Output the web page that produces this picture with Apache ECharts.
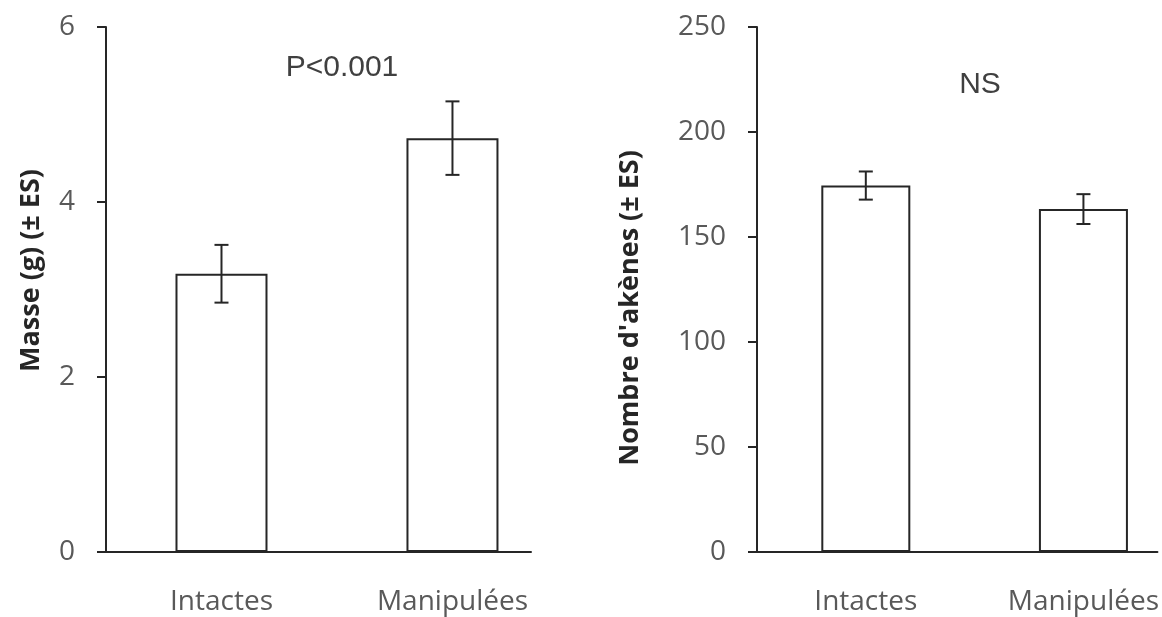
<!DOCTYPE html>
<html>
<head>
<meta charset="utf-8">
<script src="https://cdn.jsdelivr.net/npm/echarts@6/dist/echarts.min.js"></script>
<style>
    html, body { margin: 0; padding: 0; background: #fff; }
    #chart { width: 1162px; height: 617px; }
</style>
</head>
<body>
<div id="chart"></div>
<script>
var categories = ['Intactes', 'Manipulées'];
var masseMean = [3.18, 4.73];
var masseES = [0.33, 0.42];
var akenesMean = [174.5, 163.3];
var akenesES = [6.7, 7.1];
var masseTicks = [0, 2, 4, 6];
var akenesTicks = [0, 50, 100, 150, 200, 250];

var axisColor = '#262626';
var textColor = '#595959';
var font = 'Open Sans';

// positions 1, 2 on a value axis so the bars sit like the original
var toPairs = function (vals) {
    return vals.map(function (v, i) { return [i + 1, v]; });
};
var toErr = function (vals, es) {
    return vals.map(function (v, i) { return [i + 1, v, es[i]]; });
};

var renderErr = function (params, api) {
    var x = api.value(0), m = api.value(1), e = api.value(2);
    var top = api.coord([x, m + e]);
    var bot = api.coord([x, m - e]);
    var cap = 7;
    var style = { stroke: axisColor, lineWidth: 2 };
    return {
        type: 'group',
        children: [
            { type: 'line', shape: { x1: top[0], y1: top[1], x2: bot[0], y2: bot[1] }, style: style },
            { type: 'line', shape: { x1: top[0] - cap, y1: top[1], x2: top[0] + cap, y2: top[1] }, style: style },
            { type: 'line', shape: { x1: bot[0] - cap, y1: bot[1], x2: bot[0] + cap, y2: bot[1] }, style: style }
        ]
    };
};

var xAxisOf = function (gridIndex) {
    return {
        type: 'value',
        gridIndex: gridIndex,
        min: 0.5,
        max: 2.34,
        splitLine: { show: false },
        axisTick: { show: false },
        axisLine: { show: true, lineStyle: { color: axisColor, width: 2 } },
        axisLabel: {
            customValues: [1, 2],
            margin: 36,
            color: textColor,
            fontFamily: font,
            fontSize: 28,
            formatter: function (v) { return categories[Math.round(v) - 1] || ''; }
        }
    };
};

var yAxisOf = function (gridIndex, ticks, name, gap, pad) {
    return {
        type: 'value',
        gridIndex: gridIndex,
        min: ticks[0],
        max: ticks[ticks.length - 1],
        interval: ticks[1] - ticks[0],
        name: name,
        nameLocation: 'middle',
        nameRotate: 90,
        nameGap: gap,
        nameTextStyle: {
            color: '#262626',
            fontFamily: font,
            fontWeight: 'bold',
            fontSize: 27,
            padding: pad
        },
        splitLine: { show: false },
        axisLine: { show: true, lineStyle: { color: axisColor, width: 2 } },
        axisTick: { show: true, inside: false, length: 9, lineStyle: { color: axisColor, width: 2 } },
        axisLabel: {
            margin: 31,
            color: textColor,
            fontFamily: font,
            fontSize: 28
        }
    };
};

var chart = echarts.init(document.getElementById('chart'));
var option = {
    animation: false,
    backgroundColor: '#fff',
    grid: [
        { left: 106, top: 27, width: 425, height: 525 },
        { left: 757, top: 27, width: 405, height: 525 }
    ],
    xAxis: [xAxisOf(0), xAxisOf(1)],
    yAxis: [
        yAxisOf(0, masseTicks, 'Masse (g) (± ES)', 61, [0, 0, 0, 38]),
        yAxisOf(1, akenesTicks, "Nombre d'akènes (± ES)", 113, [0, 37, 0, 0])
    ],
    graphic: [
        { type: 'text', x: 342, y: 68, style: { text: 'P<0.001', fill: '#404040', font: '30px "Liberation Sans"', textAlign: 'center', textVerticalAlign: 'middle' } },
        { type: 'text', x: 980, y: 85, style: { text: 'NS', fill: '#404040', font: '30px "Liberation Sans"', textAlign: 'center', textVerticalAlign: 'middle' } }
    ],
    series: [
        {
            type: 'bar', xAxisIndex: 0, yAxisIndex: 0, barWidth: 92,
            itemStyle: { color: '#fff', borderColor: axisColor, borderWidth: 2 },
            data: toPairs(masseMean)
        },
        {
            type: 'custom', xAxisIndex: 0, yAxisIndex: 0, z: 3,
            renderItem: renderErr,
            data: toErr(masseMean, masseES)
        },
        {
            type: 'bar', xAxisIndex: 1, yAxisIndex: 1, barWidth: 89,
            itemStyle: { color: '#fff', borderColor: axisColor, borderWidth: 2 },
            data: toPairs(akenesMean)
        },
        {
            type: 'custom', xAxisIndex: 1, yAxisIndex: 1, z: 3,
            renderItem: renderErr,
            data: toErr(akenesMean, akenesES)
        }
    ]
};
chart.setOption(option);
</script>
</body>
</html>
